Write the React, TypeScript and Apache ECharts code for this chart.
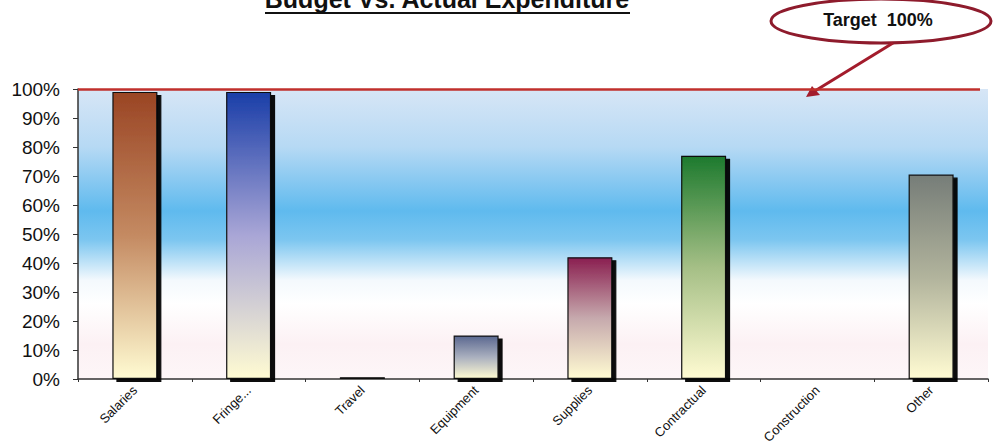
import React, { useEffect, useRef } from "react";
import * as echarts from "echarts";

// Budget categories and percent of budget spent
const categories = ["Salaries", "Fringe...", "Travel", "Equipment", "Supplies", "Contractual", "Construction", "Other"];
const spentPct = [99, 99, 0.6, 15, 42, 77, 0, 70.5];
const barTopColors = ["#9a4524", "#1a3ea8", "#1a1a1a", "#5b6890", "#8a1f50", "#1d7a2e", "#888888", "#767d78"];
const barMidColors = ["#c48a62", "#a9a6d6", "#1a1a1a", "#aab0bf", "#c6a9ad", "#a5bf86", "#cccccc", "#b1b39c"];
const yTicks = [0, 10, 20, 30, 40, 50, 60, 70, 80, 90, 100];
const targetPct = 100;

const barBottom = "#fffbd2";

export default function App() {
  const ref = useRef<HTMLDivElement>(null);

  useEffect(() => {
    if (!ref.current) return;
    const chart = echarts.init(ref.current, null, { renderer: "svg" });

    const barData = spentPct.map((v, i) => ({
      value: v,
      itemStyle: {
        color: new echarts.graphic.LinearGradient(0, 0, 0, 1, [
          { offset: 0, color: barTopColors[i] },
          { offset: 0.5, color: barMidColors[i] },
          { offset: 1, color: i === 2 ? barTopColors[i] : barBottom },
        ]),
      },
    }));

    chart.setOption({
      animation: false,
      grid: {
        left: 78,
        right: 6,
        top: 89,
        bottom: 68,
        show: true,
        borderWidth: 0,
        backgroundColor: new echarts.graphic.LinearGradient(0, 0, 0, 1, [
          { offset: 0, color: "#d7e6f6" },
          { offset: 0.2, color: "#b6d9f4" },
          { offset: 0.42, color: "#5fbaee" },
          { offset: 0.52, color: "#7cc6f0" },
          { offset: 0.66, color: "#f4f9fd" },
          { offset: 0.74, color: "#ffffff" },
          { offset: 0.88, color: "#fcf1f4" },
          { offset: 1, color: "#fdf6f8" },
        ]),
      },
      xAxis: {
        type: "category",
        data: categories,
        axisLine: { lineStyle: { color: "#333333", width: 1.5 } },
        axisTick: { show: true, length: 3, lineStyle: { color: "#333333" } },
        axisLabel: {
          rotate: 45,
          fontSize: 13,
          fontFamily: "Liberation Sans, Arial, sans-serif",
          color: "#111111",
          margin: 9,
          interval: 0,
        },
      },
      yAxis: {
        type: "value",
        min: 0,
        max: 100,
        interval: 10,
        axisLine: { show: true, lineStyle: { color: "#333333", width: 1.5 } },
        axisTick: { show: true, length: 5, lineStyle: { color: "#333333" } },
        splitLine: { show: false },
        axisLabel: {
          formatter: (v: number) => (yTicks.includes(v) ? `${v}%` : ""),
          fontSize: 19,
          fontFamily: "Liberation Sans, Arial, sans-serif",
          color: "#111111",
          margin: 18,
        },
      },
      series: [
        {
          type: "bar",
          data: barData,
          barWidth: 45,
          itemStyle: {
            borderColor: "#111111",
            borderWidth: 1.2,
            shadowColor: "rgba(0,0,0,0.95)",
            shadowOffsetX: 4,
            shadowOffsetY: 3,
            shadowBlur: 0,
          },
          markLine: {
            silent: true,
            symbol: "none",
            label: { show: false },
            lineStyle: { color: "#c0302c", width: 2.5, type: "solid" },
            data: [[{ xAxis: categories[0], yAxis: targetPct, x: 78 }, { yAxis: targetPct, x: 980 }]],
          },
        },
      ],
      graphic: [
        {
          type: "text",
          x: 447,
          y: 11,
          style: {
            text: "Budget Vs. Actual Expenditure",
            font: "bold 25px 'Liberation Sans', Arial, sans-serif",
            fill: "#111111",
            align: "center",
            verticalAlign: "bottom",
          },
        },
        {
          type: "line",
          shape: { x1: 265, y1: 13, x2: 630, y2: 13 },
          style: { stroke: "#111111", lineWidth: 2 },
        },
        {
          type: "ellipse",
          shape: { cx: 881, cy: 21, rx: 110, ry: 22 },
          style: { fill: "#ffffff", stroke: "#8e1b2c", lineWidth: 3 },
        },
        {
          type: "text",
          x: 878,
          y: 20,
          style: {
            text: "Target  100%",
            font: "bold 18px 'Liberation Sans', Arial, sans-serif",
            fill: "#111111",
            align: "center",
            verticalAlign: "middle",
          },
        },
        {
          type: "line",
          shape: { x1: 893, y1: 43, x2: 810, y2: 94 },
          style: { stroke: "#a31c2c", lineWidth: 3 },
        },
        {
          type: "polygon",
          shape: { points: [[806, 97], [812, 86], [820, 95]] },
          style: { fill: "#a31c2c" },
        },
      ],
    });

    return () => chart.dispose();
  }, []);

  return <div ref={ref} style={{ width: 994, height: 447, position: "absolute", left: 0, top: 0 }} />;
}
